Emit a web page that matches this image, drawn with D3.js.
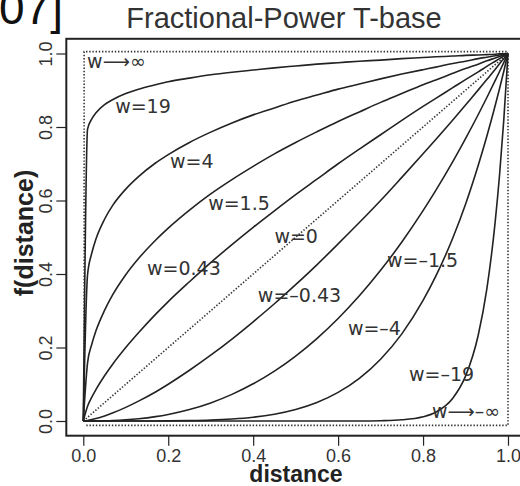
<!DOCTYPE html>
<html>
<head>
<meta charset="utf-8">
<script src="https://cdn.jsdelivr.net/npm/d3@7"></script>
<style>
  body { margin: 0; background: #fff; }
  svg { display: block; font-family: "Liberation Sans", Arial, sans-serif; }
</style>
</head>
<body>
<div id="chart"></div>
<script>
// distance grid (denser where curves bend sharply)
const distance = [0, 0.01, 0.02, 0.03, 0.05, 0.07, 0.1, 0.13, 0.17, 0.2, 0.25, 0.3, 0.35, 0.4, 0.45, 0.5,
  0.55, 0.6, 0.65, 0.7, 0.75, 0.8, 0.83, 0.87, 0.9, 0.93, 0.95, 0.97, 0.98, 0.99, 1];

const fW19 = [0, 0.794, 0.822, 0.839, 0.861, 0.875, 0.891, 0.903, 0.915, 0.923, 0.933, 0.942, 0.949, 0.955, 0.961, 0.966,
  0.971, 0.975, 0.979, 0.982, 0.986, 0.989, 0.991, 0.993, 0.995, 0.996, 0.997, 0.998, 0.999, 0.9995, 1];
const fW4 = [0, 0.398, 0.457, 0.496, 0.549, 0.588, 0.631, 0.665, 0.702, 0.725, 0.758, 0.786, 0.811, 0.833, 0.852, 0.871,
  0.887, 0.903, 0.917, 0.931, 0.944, 0.956, 0.963, 0.973, 0.979, 0.986, 0.990, 0.994, 0.996, 0.998, 1];
const fW15 = [0, 0.158, 0.209, 0.246, 0.301, 0.345, 0.398, 0.442, 0.492, 0.525, 0.574, 0.618, 0.657, 0.693, 0.727, 0.758,
  0.787, 0.815, 0.841, 0.867, 0.891, 0.915, 0.928, 0.946, 0.959, 0.971, 0.980, 0.988, 0.992, 0.996, 1];
const fW043 = [0, 0.040, 0.065, 0.086, 0.123, 0.156, 0.200, 0.240, 0.290, 0.325, 0.379, 0.431, 0.480, 0.527, 0.572, 0.616,
  0.658, 0.700, 0.740, 0.779, 0.818, 0.856, 0.878, 0.907, 0.929, 0.950, 0.965, 0.979, 0.986, 0.993, 1];
const fWm043 = [0, 0.0014, 0.0037, 0.0066, 0.0138, 0.0223, 0.0371, 0.054, 0.079, 0.100, 0.138, 0.179, 0.223, 0.270, 0.319, 0.371,
  0.425, 0.482, 0.540, 0.600, 0.663, 0.727, 0.766, 0.819, 0.860, 0.901, 0.929, 0.957, 0.972, 0.986, 1];
const fWm15 = [0, 0, 0.0001, 0.0002, 0.0006, 0.0013, 0.0032, 0.0061, 0.0119, 0.0179, 0.0313, 0.0493, 0.0725, 0.1012, 0.1358, 0.1768,
  0.2243, 0.2789, 0.3406, 0.4100, 0.4871, 0.5724, 0.6276, 0.7059, 0.7684, 0.8340, 0.8796, 0.9266, 0.9508, 0.9752, 1];
const fWm4 = [0, 0, 0, 0, 0, 0, 0, 0, 0.0001, 0.0003, 0.001, 0.0024, 0.0053, 0.0102, 0.0185, 0.0313,
  0.0503, 0.0778, 0.116, 0.168, 0.237, 0.328, 0.394, 0.498, 0.590, 0.696, 0.774, 0.859, 0.904, 0.951, 1];
const fWm19 = [0, 0, 0, 0, 0, 0, 0, 0, 0, 0, 0, 0, 0, 0, 0, 0,
  0, 0, 0, 0.0008, 0.0032, 0.0115, 0.024, 0.062, 0.122, 0.234, 0.358, 0.544, 0.668, 0.818, 1];

// limiting / reference cases (dotted)
const diagonal = [[0, 0], [1, 1]];
const wPlusInf = [[0.002, 0], [0.002, 1.005], [1, 1.005]];
const wMinusInf = [[0.007, -0.012], [1, -0.012], [1, 1]];

const ticks = [0, 0.2, 0.4, 0.6, 0.8, 1.0];

const labels = [
  { text: 'w\u27f6\u221e', d: 0.009, f: 0.961 },
  { text: 'w=19', d: 0.075, f: 0.838 },
  { text: 'w=4', d: 0.204, f: 0.688 },
  { text: 'w=1.5', d: 0.294, f: 0.574 },
  { text: 'w=0', d: 0.450, f: 0.484 },
  { text: 'w=0.43', d: 0.150, f: 0.397 },
  { text: 'w=\u20130.43', d: 0.411, f: 0.324 },
  { text: 'w=\u20131.5', d: 0.715, f: 0.419 },
  { text: 'w=\u20134', d: 0.623, f: 0.234 },
  { text: 'w=\u201319', d: 0.767, f: 0.109 },
  { text: 'w\u27f6\u2013\u221e', d: 0.821, f: 0.008 }
];

const W = 520, H = 486;
const INK = '#222';

const svg = d3.select('#chart').append('svg')
  .attr('width', W).attr('height', H);

const x = d3.scaleLinear().domain([0, 1]).range([83.3, 508]);
const y = d3.scaleLinear().domain([0, 1]).range([421, 53.5]);

// R-style plot box with 4% padding
svg.append('rect')
  .attr('x', x(-0.04)).attr('y', y(1.04))
  .attr('width', x(1.04) - x(-0.04))
  .attr('height', y(-0.04) - y(1.04))
  .attr('fill', 'none').attr('stroke', INK).attr('stroke-width', 2);

// X axis
const xAxis = svg.append('g')
  .attr('transform', `translate(0,${y(-0.04)})`)
  .call(d3.axisBottom(x).tickValues(ticks).tickFormat(d3.format('.1f')).tickSize(10).tickSizeOuter(0).tickPadding(4));
xAxis.select('.domain').remove();
xAxis.selectAll('line').attr('stroke', INK).attr('stroke-width', 1.2);
xAxis.selectAll('text').attr('fill', '#333').style('font-size', '18px')
  .style('font-family', '"Liberation Sans", Arial, sans-serif');

// Y axis (labels parallel to axis, like R default)
const yAxis = svg.append('g')
  .attr('transform', `translate(${x(-0.04)},0)`)
  .call(d3.axisLeft(y).tickValues(ticks).tickFormat(d3.format('.1f')).tickSize(10).tickSizeOuter(0));
yAxis.select('.domain').remove();
yAxis.selectAll('line').attr('stroke', INK).attr('stroke-width', 1.2);
yAxis.selectAll('text')
  .attr('fill', '#333').style('font-size', '18px')
  .style('font-family', '"Liberation Sans", Arial, sans-serif')
  .attr('x', null).attr('dy', null)
  .attr('text-anchor', 'middle')
  .attr('transform', `translate(-14,0) rotate(-90)`);

// Dotted reference lines
const line = d3.line().x(p => x(p[0])).y(p => y(p[1]));
[diagonal, wPlusInf, wMinusInf].forEach(pts => {
  svg.append('path')
    .attr('d', line(pts))
    .attr('fill', 'none').attr('stroke', '#333')
    .attr('stroke-width', 1.6).attr('stroke-dasharray', '1.4,1.8');
});

// Curves
const curves = [fW19, fW4, fW15, fW043, fWm043, fWm15, fWm4, fWm19];
const curveLine = d3.line()
  .x((_, i) => x(distance[i]))
  .y(v => y(v))
  .curve(d3.curveMonotoneX);
curves.forEach(vals => {
  svg.append('path')
    .attr('d', curveLine(vals))
    .attr('fill', 'none').attr('stroke', INK).attr('stroke-width', 1.6);
});

// Curve labels
svg.append('g').selectAll('text').data(labels).join('text')
  .attr('x', l => x(l.d)).attr('y', l => y(l.f))
  .attr('fill', '#333')
  .style('font-family', '"DejaVu Sans", sans-serif')
  .style('font-size', '19px')
  .text(l => l.text);

// Titles
svg.append('text')
  .attr('x', 284).attr('y', 28).attr('text-anchor', 'middle')
  .attr('fill', '#333').style('font-size', '29px')
  .text('Fractional-Power T-base');

// fragment of the page's running header, cut by the crop
svg.append('text')
  .attr('x', 63).attr('y', 24).attr('text-anchor', 'end')
  .attr('fill', '#111').style('font-size', '46px')
  .text('2007]');

svg.append('text')
  .attr('x', 296).attr('y', 482).attr('text-anchor', 'middle')
  .attr('fill', '#222').style('font-size', '23px').style('font-weight', 'bold')
  .text('distance');

svg.append('text')
  .attr('transform', `translate(33,233) rotate(-90)`)
  .attr('text-anchor', 'middle')
  .attr('fill', '#222').style('font-size', '25px').style('font-weight', 'bold')
  .text('f(distance)');
</script>
</body>
</html>
